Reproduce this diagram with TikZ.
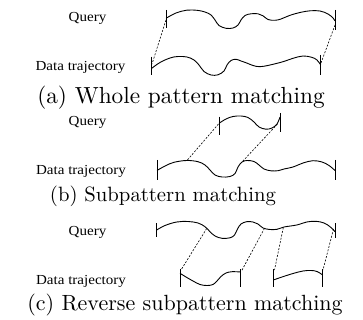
\documentclass[tikz,border=0pt]{standalone}
\usepackage{fontspec}
\usepackage{graphicx}
\newfontfamily\lblfont{Liberation Serif}
\newfontfamily\capfont{lmroman10-regular.otf}
\tikzset{
  traj/.style={line width=0.9pt, smooth, tension=0.6},
  endtick/.style={line width=0.9pt},
  match/.style={line width=0.6pt, dash pattern=on 2pt off 1.5pt},
  lbl/.style={inner sep=0pt, anchor=base, font=\lblfont\fontsize{13.8}{13.8}\selectfont},
  captext/.style={inner sep=0pt, anchor=base},
}
\newcommand{\lbltext}[1]{\scalebox{1.09}[1]{#1}}
\begin{document}
\begin{tikzpicture}[x=1pt,y=-1pt]
\useasboundingbox (0,0) rectangle (363,320);
% ---------- (a) ----------
\node[lbl] (qla) at (87.5,22) {\lbltext{Query}};
\node[lbl] (dla) at (80.5,70.7) {\lbltext{Data trajectory}};
\draw[traj] plot coordinates {(166,18.3) (176,13) (186.7,10.2) (197,10.3) (205,12) (211,15) (215,20) (219,25.5) (226,28.3) (233,28) (238,25) (241,20) (245,15.5) (251,13.8) (258,13.8) (263,15.8) (268,19.5) (275,20.3) (281,19) (290,15.3) (300,12.5) (310,10.8) (320,11) (328,14) (333,18) (335,21)};
\draw[endtick] (166,10) -- (166,28);
\draw[endtick] (335,10) -- (335,30);
\draw[traj] plot coordinates {(151.7,68.3) (160,62.5) (170,58) (178,56.5) (187,57) (194,60) (199,65) (204,71.5) (211,75) (218,74.8) (224,71) (227,65) (231,60.5) (236,59.3) (241,61) (246.7,63) (253,65.5) (260,66.7) (270,65) (283,61.7) (293,58.3) (303,56) (311.7,57.3) (317,60) (320.7,65)};
\draw[endtick] (151.7,56.7) -- (151.7,75.5);
\draw[endtick] (320.7,55) -- (320.7,75);
\coordinate (qa1) at (166,20);
\coordinate (da1) at (152,64);
\coordinate (qa2) at (335,25);
\coordinate (da2) at (321,63);
\draw[match] (qa1) -- (da1);
\draw[match] (qa2) -- (da2);
\node[captext, font=\capfont\fontsize{23.3}{23.3}\selectfont] (capa) at (181,104) {(a) Whole pattern matching};
% ---------- (b) ----------
\node[lbl] (qlb) at (87.5,126) {\lbltext{Query}};
\node[lbl] (dlb) at (81,174.3) {\lbltext{Data trajectory}};
\draw[traj] plot coordinates {(219,123.3) (226,119) (233,116.5) (241,116) (248,117.5) (254,122) (259,127) (266,129.2) (272,128) (277,124) (280,117)};
\draw[endtick] (219,116.7) -- (219,135);
\draw[endtick] (280,113) -- (280,131.7);
\draw[traj] plot coordinates {(157,170.5) (165,166) (174,162.3) (186.7,160.5) (198,161.7) (205,165) (210,170) (215,175) (222,177) (230,176.5) (235,173.5) (238,167) (242,162) (247,160.5) (254,161.5) (259,165) (264,169) (271,170.8) (278,170.7) (284,169) (293,167) (303,163) (313,160.7) (322,162) (329,165.5) (335,170.5)};
\draw[endtick] (157,160) -- (157,180);
\draw[endtick] (335,160) -- (335,180);
\coordinate (qb1) at (218.5,124);
\coordinate (db1) at (187,160.5);
\coordinate (qb2) at (277.5,124);
\coordinate (db2) at (242,162);
\draw[match] (qb1) -- (db1);
\draw[match] (qb2) -- (db2);
\node[captext, font=\capfont\fontsize{20.7}{20.7}\selectfont] (capb) at (163,201) {(b) Subpattern matching};
% ---------- (c) ----------
\node[lbl] (qlc) at (87.5,235) {\lbltext{Query}};
\node[lbl] (dlc) at (81,284) {\lbltext{Data trajectory}};
\draw[traj] plot coordinates {(156.7,230) (165,225.5) (176.7,222) (188,221.5) (198,223) (205,226.7) (210,231.7) (215,236) (222,238.3) (230,237.8) (234.5,235) (237.5,229) (241,224) (246.7,221.7) (253,222) (258,224) (263,228) (270,229.5) (277,229.3) (284,227) (296.7,225) (306.7,222) (316,221.3) (324,223) (330,226.7) (335,231.7)};
\draw[endtick] (156.7,223) -- (156.7,237);
\draw[endtick] (335,223) -- (335,238);
\draw[traj] plot coordinates {(180,273.3) (186,277) (193,281) (200,284.5) (207,285.5) (213,284.5) (217,281) (221,276.5) (226,273) (232,271.7) (240.7,272)};
\draw[endtick] (180,269) -- (180,287);
\draw[endtick] (240.7,269) -- (240.7,287);
\draw[traj] plot coordinates {(273.3,280) (282,277) (293,273.5) (303,271) (311,270.5) (317,271.5) (322.7,275)};
\draw[endtick] (273.3,269) -- (273.3,287);
\draw[endtick] (322.7,269) -- (322.7,287);
\coordinate (qc1) at (206.7,228.5);
\coordinate (dc1) at (181,270);
\coordinate (qc2) at (264.5,228.3);
\coordinate (dc2) at (241.5,271);
\coordinate (qc3) at (283.3,227.5);
\coordinate (dc3) at (274.5,270);
\coordinate (qc4) at (333.5,229);
\coordinate (dc4) at (323,270);
\draw[match] (qc1) -- (dc1);
\draw[match] (qc2) -- (dc2);
\draw[match] (qc3) -- (dc3);
\draw[match] (qc4) -- (dc4);
\node[captext, font=\capfont\fontsize{22}{22}\selectfont] (capc) at (185,310) {(c) Reverse subpattern matching};
\end{tikzpicture}
\end{document}
